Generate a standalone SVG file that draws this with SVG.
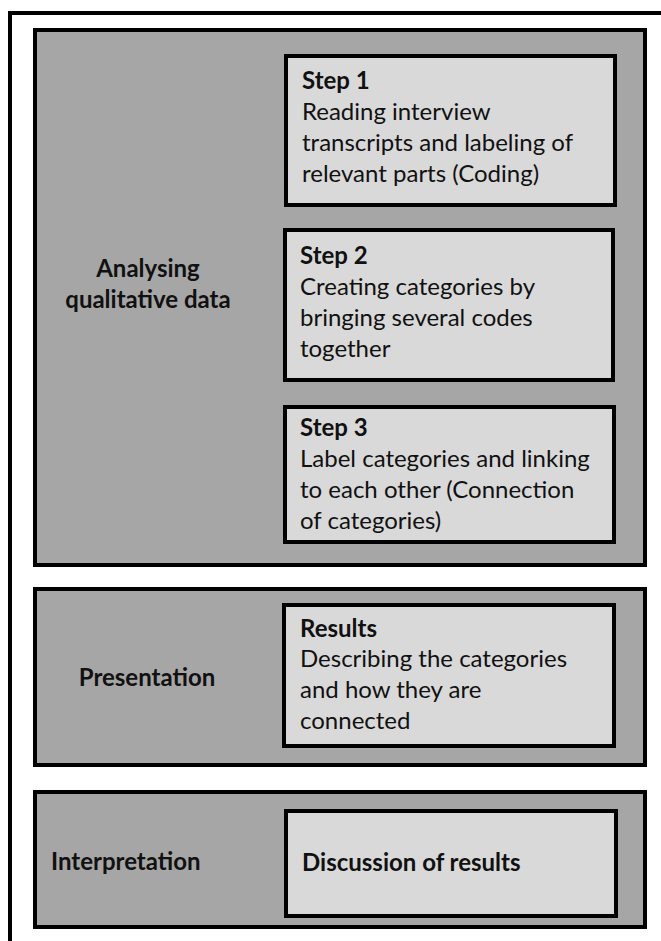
<svg xmlns="http://www.w3.org/2000/svg" width="661" height="941" viewBox="0 0 661 941">
  <style>
    .frame { fill: #ffffff; stroke: #000000; stroke-width: 4; }
    .panel { fill: #a6a6a6; stroke: #000000; stroke-width: 4; }
    .box { fill: #d9d9d9; stroke: #000000; stroke-width: 4; }
    text { font-family: Lato, "Open Sans", sans-serif; font-size: 24px; fill: #111111; }
    .b { font-weight: bold; }
    .mid { text-anchor: middle; }
  </style>

  <!-- outer frame (runs off the right and bottom edges) -->
  <rect class="frame" x="10" y="13" width="700" height="1000"/>

  <g id="stage-analysing">
    <rect class="panel" x="35" y="30" width="610" height="535"/>
    <text class="b mid" x="148" y="277">Analysing</text>
    <text class="b mid" x="148" y="308">qualitative data</text>
  </g>

  <g id="step-1">
    <rect class="box" x="286" y="56" width="329" height="149"/>
    <text class="b" x="302" y="89">Step 1</text>
    <text x="302" y="120">Reading interview</text>
    <text x="302" y="151">transcripts and labeling of</text>
    <text x="302" y="182">relevant parts (Coding)</text>
  </g>

  <g id="step-2">
    <rect class="box" x="285" y="230" width="328" height="150"/>
    <text class="b" x="300" y="264">Step 2</text>
    <text x="300" y="295">Creating categories by</text>
    <text x="300" y="326">bringing several codes</text>
    <text x="300" y="357">together</text>
  </g>

  <g id="step-3">
    <rect class="box" x="285" y="407" width="329" height="135"/>
    <text class="b" x="300" y="436">Step 3</text>
    <text x="300" y="467">Label categories and linking</text>
    <text x="300" y="498">to each other (Connection</text>
    <text x="300" y="529">of categories)</text>
  </g>

  <g id="stage-presentation">
    <rect class="panel" x="35" y="589" width="610" height="176"/>
    <text class="b mid" x="147" y="686">Presentation</text>
  </g>

  <g id="results">
    <rect class="box" x="284" y="605" width="330" height="141"/>
    <text class="b" x="300" y="637">Results</text>
    <text x="300" y="667">Describing the categories</text>
    <text x="300" y="698">and how they are</text>
    <text x="300" y="729">connected</text>
  </g>

  <g id="stage-interpretation">
    <rect class="panel" x="35" y="792" width="610" height="135"/>
    <text class="b" x="51" y="870">Interpretation</text>
  </g>

  <g id="discussion">
    <rect class="box" x="286" y="811" width="330" height="105"/>
    <text class="b" x="302" y="871">Discussion of results</text>
  </g>

  <!-- no connectors in this figure -->
  <g id="connectors"/>
</svg>
